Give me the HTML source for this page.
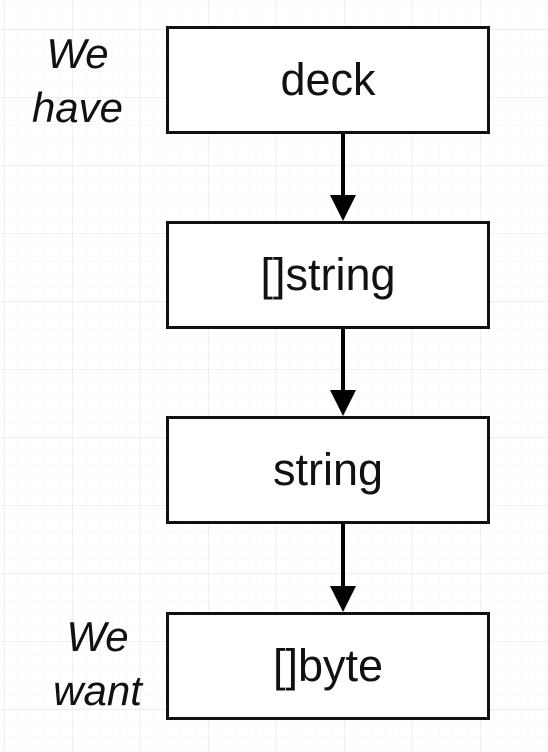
<!DOCTYPE html>
<html><head><style>
body{margin:0;width:548px;height:752px;overflow:hidden;background:#fff;
background-image:linear-gradient(#efefef 1px,transparent 1px),linear-gradient(90deg,#efefef 1px,transparent 1px),linear-gradient(#f9f9f9 1px,transparent 1px),linear-gradient(90deg,#f9f9f9 1px,transparent 1px);
background-size:68px 68px,68px 68px,13.6px 13.6px,13.6px 13.6px;background-position:4px 29px,4px 29px,4px 29px,4px 29px;
font-family:"Liberation Sans",sans-serif;position:relative}
.b{position:absolute;left:166px;width:318px;height:102px;border:3px solid #111;background:#fff;display:flex;align-items:center;justify-content:center;font-size:45px;color:#111}
.l{position:absolute;font-style:italic;font-size:42px;color:#111;text-align:center;line-height:54px}
</style></head><body>
<svg width="548" height="752" style="position:absolute;left:0;top:0">
<g stroke="#000" stroke-width="4"><line x1="343" y1="133" x2="343" y2="205"/><line x1="343" y1="328" x2="343" y2="400"/><line x1="343" y1="523" x2="343" y2="596"/></g>
<g fill="#000"><polygon points="330,195 356,195 343,221"/><polygon points="330,390 356,390 343,416"/><polygon points="330,586 356,586 343,612"/></g>
</svg>
<div class="b" style="top:26px">deck</div>
<div class="b" style="top:221px">[]string</div>
<div class="b" style="top:416px">string</div>
<div class="b" style="top:612px">[]byte</div>
<div class="l" style="left:15px;top:27px;width:125px">We<br>have</div>
<div class="l" style="left:35px;top:610px;width:125px">We<br>want</div>
</body></html>
